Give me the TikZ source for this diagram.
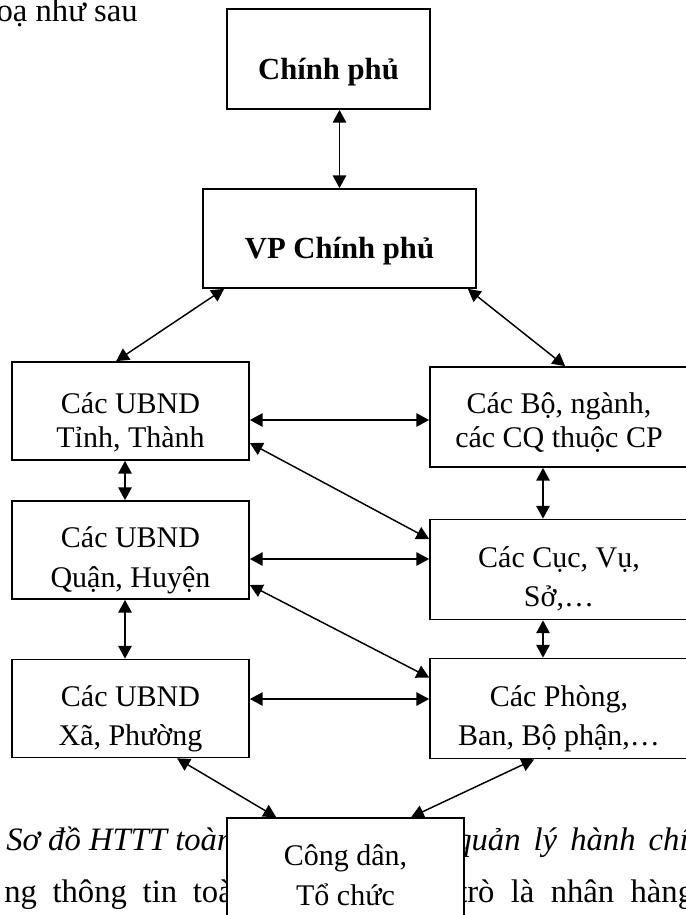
\documentclass[tikz,border=0pt]{standalone}
\usepackage{fontspec}
\setmainfont{Liberation Serif}
\usetikzlibrary{arrows.meta,calc}

\begin{document}
\begin{tikzpicture}[x=0.75pt,y=-0.75pt,
		box/.style={draw, line width=1.3pt, fill=white, align=center, inner sep=0pt,
			text height=55.5pt, text depth=0pt, font=\fontsize{22.5}{29.5}\selectfont},
		tight/.style={font=\fontsize{22.5}{25.5}\selectfont},
		head/.style={box, text height=30pt, text depth=0pt, font=\fontsize{23}{29}\selectfont\bfseries},
		lbox/.style={box, minimum width=177.75pt, minimum height=73.5pt},
		rbox/.style={box, minimum width=193.5pt, minimum height=75pt},
		link/.style={{Triangle[length=9.5pt,width=10pt]}-{Triangle[length=9.5pt,width=10pt]}, line width=1.1pt},
		prose/.style={inner sep=0pt, anchor=base west, font=\fontsize{24.5}{29}\selectfont}]
			\useasboundingbox (0,0) rectangle (686,915);
			\clip (0,0) rectangle (686,915);
			% running text of the page
			\node[prose] (intro) at (-20,21) {hoạ như sau};
			\node[prose, font=\fontsize{24.5}{29}\selectfont\itshape] (capl) at (6,850) {Sơ đồ HTTT toàn};
			\node[prose, font=\fontsize{24.5}{29}\selectfont\itshape] (capr) at (455,850) {\spaceskip=0.4em\relax quản lý hành chính};
			\node[prose] (txtl) at (4,902) {\spaceskip=0.48em\relax ng thông tin toàn};
			\node[prose] (txtr) at (458,902) {\spaceskip=0.5em\relax trò là nhân hàng};
			% boxes
			\node[head, minimum width=152.25pt, minimum height=75pt] (cp) at (328.5,59) {Chính phủ};
			\node[head, minimum width=204.75pt, minimum height=74.25pt] (vp) at (339.5,238.5) {VP Chính phủ};
			\node[lbox, tight, text height=54pt] (tinh) at (130.5,411) {Các UBND\\Tỉnh, Thành};
			\node[lbox] (quan) at (130.5,550) {Các UBND\\Quận, Huyện};
			\node[lbox] (xa) at (130.5,708.5) {Các UBND\\Xã, Phường};
			\node[rbox, tight, text height=45pt] (bo) at (559,417) {Các Bộ, ngành,\\các CQ thuộc CP};
			\node[rbox] (cuc) at (559,569.5) {Các Cục, Vụ,\\Sở,\dots};
			\node[rbox] (phong) at (559,708.5) {Các Phòng,\\Ban, Bộ phận,\dots};
			\node[lbox, minimum height=75pt] (cd) at (345.5,868) {Công dân,\\Tổ chức};
			% connectors
			\draw[link] (vp.north |- cp.south) -- (vp.north);
			\draw[link] ($(vp.south west)+(22,0)$) -- ($(tinh.north west)+(105,0)$);
			\draw[link] ($(vp.south east)+(-9,0)$) -- ($(bo.north west)+(136,0)$);
			\draw[link] ($(tinh.east)+(0,9)$) -- ($(bo.west)+(0,3)$);
			\draw[link] ($(tinh.east)+(0,32)$) -- ($(cuc.west)+(0,-30.5)$);
			\draw[link] ($(quan.east)+(0,9)$) -- ($(cuc.west)+(0,-10.5)$);
			\draw[link] ($(quan.east)+(0,35)$) -- ($(phong.west)+(0,-31)$);
			\draw[link] ($(xa.east)+(0,-9.5)$) -- ($(phong.west)+(0,-9.5)$);
			\draw[link] ($(tinh.south)+(-5.5,0)$) -- ($(quan.north)+(-5.5,0)$);
			\draw[link] ($(quan.south)+(-5.5,0)$) -- ($(xa.north)+(-5.5,0)$);
			\draw[link] ($(bo.south)+(-16,0)$) -- ($(cuc.north)+(-16,0)$);
			\draw[link] ($(cuc.south)+(-16,0)$) -- ($(phong.north)+(-16,0)$);
			\draw[link] ($(xa.south west)+(166,0)$) -- ($(cd.north west)+(50,0)$);
			\draw[link] ($(phong.south west)+(105,0)$) -- ($(cd.north west)+(185,0)$);
		\end{tikzpicture}
\end{document}
